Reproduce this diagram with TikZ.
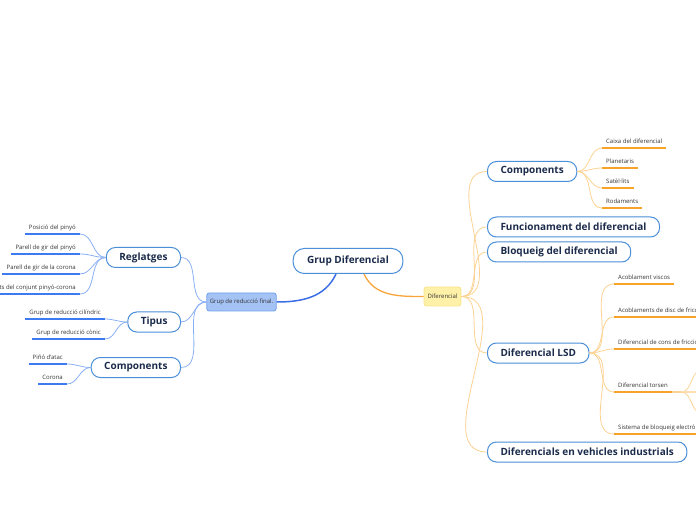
\documentclass[tikz,border=0pt]{standalone}
\usepackage{fontspec}
\setmainfont{Open Sans}
\usepackage{xcolor}
\usepackage{tikz}
\usetikzlibrary{positioning}

\definecolor{navy}{HTML}{1B2B4B}
\definecolor{boxblue}{HTML}{4A8FD8}
\definecolor{leaftext}{HTML}{333333}
\definecolor{finalfill}{HTML}{A4C2F4}
\definecolor{finalborder}{HTML}{6D9EEB}
\definecolor{diffill}{HTML}{FFF2A8}
\definecolor{difborder}{HTML}{F6E38A}
\definecolor{rootblue}{HTML}{3C6FE6}
\definecolor{linkblue}{HTML}{8AB0F5}
\definecolor{lineblue}{HTML}{3D7BF2}
\definecolor{rootorange}{HTML}{F9A43A}
\definecolor{linkorange}{HTML}{FCD293}
\definecolor{lineorange}{HTML}{F7A229}

\begin{document}
\begin{tikzpicture}[x=1pt, y=1pt,
  topic/.style={rectangle, draw=boxblue, fill=white, line width=1pt, rounded corners=11pt, font=\fontsize{10}{12}\selectfont\bfseries, text=navy, inner xsep=14pt, minimum height=25pt},
  branch/.style={rectangle, draw=boxblue, fill=white, line width=1pt, rounded corners=9pt, font=\fontsize{10}{12}\selectfont\bfseries, text=navy, inner xsep=13pt, minimum height=20pt},
  mainblue/.style={rectangle, draw=finalborder, fill=finalfill, line width=0.8pt, rounded corners=2.5pt, font=\fontsize{6}{7}\selectfont, text=leaftext, inner xsep=3pt, minimum height=18pt},
  mainorange/.style={rectangle, draw=difborder, fill=diffill, line width=0.8pt, rounded corners=2.5pt, font=\fontsize{6}{7}\selectfont, text=leaftext, inner xsep=3.5pt, minimum height=19pt},
  leaf/.style={font=\fontsize{6}{7}\selectfont, text=leaftext, inner xsep=4pt, inner ysep=2.5pt, text height=4.5pt, text depth=1.5pt},
  leafblue/.style={leaf, anchor=south east, append after command={(\tikzlastnode.south west) edge[line width=1.6pt, draw=lineblue] (\tikzlastnode.south east)}},
  leaforange/.style={leaf, anchor=south west, append after command={(\tikzlastnode.south west) edge[line width=1.6pt, draw=lineorange] (\tikzlastnode.south east)}},
  bluelink/.style={draw=linkblue, line width=0.8pt},
  orangelink/.style={draw=linkorange, line width=0.8pt}
]
\clip (0,0) rectangle (696,520);

% Nodes
\node[topic] (root) at (348,259) {Grup Diferencial};

\node[mainblue] (grfinal) at (241.5,218) {Grup de reducció final.};
\node[mainorange] (dif) at (442.5,223.5) {Diferencial};

\node[branch, anchor=east] (reglatges) at (181,262.5) {Reglatges};
\node[branch, anchor=east] (tipus) at (181,198) {Tipus};
\node[branch, anchor=east] (compl) at (181,152.5) {Components};

\node[leafblue] (posicio) at (80,286) {Posició del pinyó};
\node[leafblue] (pgpinyo) at (80,266) {Parell de gir del pinyó};
\node[leafblue] (pgcorona) at (80,246) {Parell de gir de la corona};
\node[leafblue] (conjunt) at (80,226) {ts del conjunt pinyó-corona};
\node[leafblue] (cilindric) at (105,201) {Grup de reducció cilíndric};
\node[leafblue] (conic) at (105,181) {Grup de reducció cònic};
\node[leafblue] (pinyo) at (67,156) {Piñó d'atac};
\node[leafblue] (corona) at (67,136) {Corona};

\node[branch, anchor=west] (compr) at (487,348.5) {Components};
\node[branch, anchor=west] (funcio) at (487,293) {Funcionament del diferencial};
\node[branch, anchor=west] (bloqueig) at (487,268) {Bloqueig del diferencial};
\node[branch, anchor=west] (lsd) at (487,167) {Diferencial LSD};
\node[branch, anchor=west] (industrials) at (487,68) {Diferencials en vehicles industrials};

\node[leaforange] (caixa) at (602,372) {Caixa del diferencial};
\node[leaforange] (planetaris) at (602,352) {Planetaris};
\node[leaforange] (satellits) at (602,332) {Satèl·lits};
\node[leaforange] (rodaments) at (602,312) {Rodaments};

\node[leaforange] (viscos) at (614,236) {Acoblament viscos};
\node[leaforange] (disc) at (614,203) {Acoblaments de disc de fricció};
\node[leaforange] (cons) at (614,171) {Diferencial de cons de fricció};
\node[leaforange] (torsen) at (614,128) {Diferencial torsen};
\node[leaforange] (electro) at (614,86) {Sistema de bloqueig electrònic};

\coordinate (torsenfork) at ([xshift=9pt]torsen.south east);
\coordinate (torsenup) at (702,150);
\coordinate (torsenmid) at (702,128);
\coordinate (torsendown) at (702,107);

% Arrows
\draw[line width=1.5pt, draw=rootblue] ([xshift=-12pt]root.south) to[out=-115,in=0] (grfinal.east);
\draw[line width=1.3pt, draw=rootorange] ([xshift=16pt]root.south) to[out=-65,in=180] (dif.west);

\draw[bluelink] (grfinal.west) to[out=180,in=0] (reglatges.east);
\draw[bluelink] (grfinal.west) to[out=180,in=0] (tipus.east);
\draw[bluelink] (grfinal.west) to[out=180,in=0] (compl.east);

\draw[bluelink] (reglatges.west) to[out=180,in=0] (posicio.south east);
\draw[bluelink] (reglatges.west) to[out=180,in=0] (pgpinyo.south east);
\draw[bluelink] (reglatges.west) to[out=180,in=0] (pgcorona.south east);
\draw[bluelink] (reglatges.west) to[out=180,in=0] (conjunt.south east);
\draw[bluelink] (tipus.west) to[out=180,in=0] (cilindric.south east);
\draw[bluelink] (tipus.west) to[out=180,in=0] (conic.south east);
\draw[bluelink] (compl.west) to[out=180,in=0] (pinyo.south east);
\draw[bluelink] (compl.west) to[out=180,in=0] (corona.south east);

\draw[orangelink] (dif.east) to[out=0,in=180] (compr.west);
\draw[orangelink] (dif.east) to[out=0,in=180] (funcio.west);
\draw[orangelink] (dif.east) to[out=0,in=180] (bloqueig.west);
\draw[orangelink] (dif.east) to[out=0,in=180] (lsd.west);
\draw[orangelink] (dif.east) to[out=0,in=180] (industrials.west);

\draw[orangelink] (compr.east) to[out=0,in=180] (caixa.south west);
\draw[orangelink] (compr.east) to[out=0,in=180] (planetaris.south west);
\draw[orangelink] (compr.east) to[out=0,in=180] (satellits.south west);
\draw[orangelink] (compr.east) to[out=0,in=180] (rodaments.south west);

\draw[orangelink] (lsd.east) to[out=0,in=180] (viscos.south west);
\draw[orangelink] (lsd.east) to[out=0,in=180] (disc.south west);
\draw[orangelink] (lsd.east) to[out=0,in=180] (cons.south west);
\draw[orangelink] (lsd.east) to[out=0,in=180] (torsen.south west);
\draw[orangelink] (lsd.east) to[out=0,in=180] (electro.south west);

\draw[line width=1.6pt, draw=linkorange] (torsen.south east) -- (torsenfork);
\draw[orangelink] (torsenfork) to[out=0,in=180] (torsenup);
\draw[line width=1.4pt, draw=linkorange!70] (torsenfork) -- (torsenmid);
\draw[orangelink] (torsenfork) to[out=0,in=180] (torsendown);

\end{tikzpicture}
\end{document}
